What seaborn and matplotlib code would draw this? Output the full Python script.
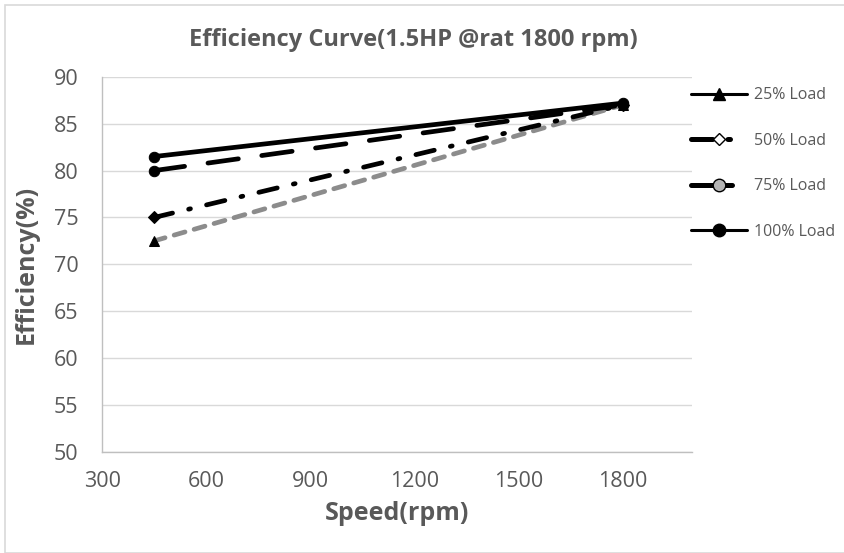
import matplotlib
matplotlib.use("Agg")
import matplotlib.pyplot as plt
from matplotlib.lines import Line2D
from matplotlib.patches import Rectangle
import seaborn as sns
import pandas as pd

speed = [450, 1800]
load_25 = [72.5, 87.0]
load_50 = [75.0, 87.0]
load_75 = [80.0, 87.0]
load_100 = [81.5, 87.2]
labels = ["25% Load", "50% Load", "75% Load", "100% Load"]
x_ticks = [300, 600, 900, 1200, 1500, 1800]
y_ticks = [50, 55, 60, 65, 70, 75, 80, 85, 90]

sns.set_theme(style="white")
plt.rcParams['font.family'] = ['Open Sans', 'DejaVu Sans']

txt = "#595959"
fig = plt.figure(figsize=(8.44, 5.53), dpi=100)
ax = fig.add_axes([0.121, 0.183, 0.699, 0.678])

fig.patches.append(Rectangle((5 / 844, 0), 1.0, 1 - 5 / 553, transform=fig.transFigure,
                             fill=False, edgecolor="#d9d9d9", linewidth=1.2))

df = pd.DataFrame({"speed": speed * 4,
                   "eff": load_25 + load_50 + load_75 + load_100,
                   "load": sum([[l] * len(speed) for l in labels], [])})

# line styles as drawn in the plot area
styles = {
    "25% Load": dict(color="#8c8c8c", linestyle=(0, (2.4, 2.0)), marker="^"),
    "50% Load": dict(color="black", linestyle=(0, (4, 3.5, 0.4, 3.5)), marker="D"),
    "75% Load": dict(color="black", linestyle=(0, (6.5, 5)), marker="o"),
    "100% Load": dict(color="black", linestyle="-", marker="o"),
}
for lab in labels:
    sub = df[df["load"] == lab]
    st = styles[lab]
    sns.lineplot(data=sub, x="speed", y="eff", ax=ax, color=st["color"],
                 linestyle=st["linestyle"], linewidth=3.4, marker=st["marker"],
                 markersize=7.5 if st["marker"] != "D" else 6,
                 markeredgecolor="black", markerfacecolor="black",
                 dash_capstyle="round", legend=False)

ax.set_xlim(300, 2000)
ax.set_ylim(50, 90)
ax.set_xticks(x_ticks)
ax.set_yticks(y_ticks)
ax.tick_params(axis="both", length=0, labelsize=15.5, colors=txt)
ax.tick_params(axis="x", pad=14)
ax.tick_params(axis="y", pad=17)
ax.yaxis.grid(True, color="#d9d9d9", linewidth=1)
ax.xaxis.grid(False)
for s in ["top", "right"]:
    ax.spines[s].set_visible(False)
for s in ["left", "bottom"]:
    ax.spines[s].set_color("#bfbfbf")
    ax.spines[s].set_linewidth(1)

fig.text(0.49, 0.928, "Efficiency Curve(1.5HP @rat 1800 rpm)", fontsize=17,
         fontweight="bold", color=txt, ha="center", va="center")
ax.set_xlabel("Speed(rpm)", fontsize=18, fontweight="bold", color=txt, labelpad=6)
ax.set_ylabel("Efficiency(%)", fontsize=18, fontweight="bold", color=txt, labelpad=11)

# legend handles as shown in the reference legend
handles = [
    Line2D([], [], color="black", linewidth=2.2, marker="^", markersize=8),
    Line2D([], [], color="black", linewidth=3.6, linestyle=(0, (4.3, 3.0, 0.5, 8)),
           dash_capstyle="round", marker="D", markersize=6, markerfacecolor="white"),
    Line2D([], [], color="black", linewidth=3.6, linestyle=(0, (8.2, 4)),
           dash_capstyle="round", marker="o", markersize=9, markerfacecolor="#b5b5b5"),
    Line2D([], [], color="black", linewidth=2.2, marker="o", markersize=9),
]
leg = fig.legend(handles, labels, loc="upper left", bbox_to_anchor=(0.815, 0.848),
                 frameon=False, fontsize=11.5, labelspacing=1.85, handlelength=3.5,
                 handletextpad=0.45, borderaxespad=0, borderpad=0.2)
for t in leg.get_texts():
    t.set_color(txt)

fig.savefig("out.png", dpi=100)
